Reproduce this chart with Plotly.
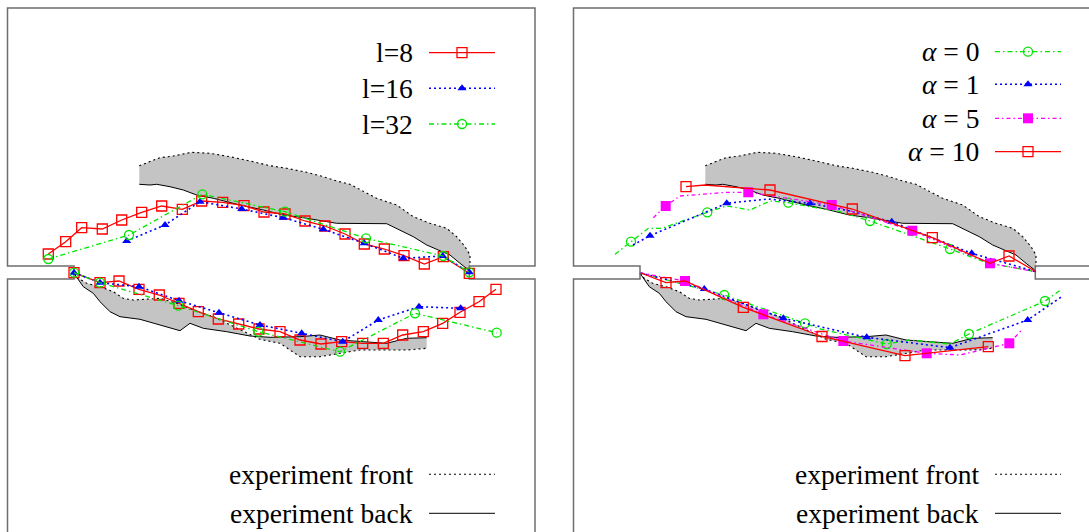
import plotly.graph_objects as go

# ---------------------------------------------------------------------------
# Specimen outline (double-edge-notched plate), x from left edge, y from notch axis
SPEC_X = [0, 0, 66.5, 66.5, 0, 0, 527.5, 527.5, 461.8, 461.8, 527.5, 527.5]
SPEC_Y = [-300, -6.6, -6.6, 6.6, 6.6, 264.5, 264.5, 6.6, 6.6, -6.6, -6.6, -300]

# Experimental crack surfaces: upper crack
UP_FRONT_X = [131.8, 152.5, 165.8, 184.2, 202.5, 222.5, 242.5, 262.5, 279.2, 299.2, 315.8,
              329.2, 342.5, 355.8, 369.2, 389.2, 405.8, 422.5, 439.2, 449.2, 457.5, 462.5, 462.5]
UP_FRONT_Y = [106.8, 114.8, 116.5, 120.2, 119.2, 115.8, 111.5, 106.8, 104.2, 100.2, 95.8,
              91.5, 88.2, 80.8, 74.2, 67.5, 55.8, 49.2, 44.2, 35.8, 25.8, 17.5, 5.8]
UP_BACK_X = [131.8, 142.5, 149.2, 162.5, 175.8, 189.2, 205.8, 232.5, 255.8, 275.8, 295.8,
             309.2, 329.2, 379.2, 389.2, 405.8, 419.2, 435.8, 442.5, 452.5, 461.8]
UP_BACK_Y = [88.2, 87.5, 88.2, 85.8, 82.5, 77.5, 74.2, 67.5, 62.5, 57.5, 54.8,
             52.5, 49.2, 48.8, 44.2, 35.8, 27.5, 20.8, 17.5, 9.2, 2.0]

# Experimental crack surfaces: lower crack
LO_FRONT_X = [66.5, 70.8, 79.2, 92.5, 105.8, 115.8, 125.8, 139.2, 152.5, 169.2, 185.8, 205.8,
              222.5, 239.2, 252.5, 272.5, 292.5, 312.5, 332.5, 352.5, 375.8, 399.2, 419.2]
LO_FRONT_Y = [-0.8, -5.8, -10.8, -14.2, -19.2, -25.8, -27.5, -26.8, -25.8, -30.8, -37.5, -44.2,
              -52.5, -60.8, -66.8, -70.8, -84.2, -84.2, -80.8, -77.5, -77.5, -77.5, -75.8]
LO_BACK_X = [66.5, 70.8, 75.8, 85.8, 92.5, 102.5, 112.5, 132.5, 152.5, 172.5, 182.5, 195.8,
             219.2, 242.5, 262.5, 292.5, 312.5, 332.5, 355.8, 379.2, 399.2, 419.2]
LO_BACK_Y = [-0.8, -7.5, -14.2, -20.8, -29.2, -39.2, -44.2, -46.8, -52.5, -58.2, -50.8, -55.8,
             -59.2, -63.5, -64.8, -64.2, -62.5, -67.5, -69.2, -70.8, -65.8, -65.2]

# ---------------------------------------------------------------------------
# Left panel: mesh size l
L8_UP_X = [40.8, 58.2, 74.2, 94.8, 114.2, 134.2, 154.2, 174.8, 194.2, 215.2, 236.5, 256.5,
           277.5, 297.5, 317.5, 337.5, 356.8, 376.8, 396.5, 416.8, 435.8, 461.8]
L8_UP_Y = [18.5, 30.8, 44.8, 43.5, 52.5, 60.2, 66.5, 63.2, 71.5, 70.2, 66.8, 60.5,
           58.5, 51.5, 46.5, 38.5, 28.5, 23.5, 16.8, 8.5, 15.8, -0.8]
L16_UP_X = [119.2, 157.5, 192.5, 234.2, 275.8, 315.8, 356.8, 395.8, 435.2, 461.8]
L16_UP_Y = [31.5, 47.5, 70.8, 63.5, 54.8, 43.2, 29.2, 14.2, 16.5, 0.2]
L32_UP_X = [40.8, 121.5, 194.8, 277.5, 358.5, 435.8, 461.8]
L32_UP_Y = [13.5, 37.5, 78.2, 60.8, 34.2, 16.5, 0.2]

L8_LO_X = [66.5, 92.5, 111.5, 131.5, 151.8, 171.5, 190.8, 210.8, 231.2, 251.5, 272.5,
           292.5, 313.5, 334.2, 355.2, 375.8, 395.2, 415.8, 435.2, 452.5, 471.5, 488.5]
L8_LO_Y = [-0.2, -10.2, -8.5, -16.8, -22.5, -30.8, -39.2, -46.5, -51.5, -56.5, -59.2,
           -67.5, -71.5, -69.2, -70.8, -70.8, -62.5, -59.2, -50.8, -39.8, -29.2, -16.8]
L16_LO_X = [66.5, 92.5, 131.5, 171.5, 211.5, 252.5, 294.2, 335.2, 370.8, 411.5, 453.2]
L16_LO_Y = [-0.2, -10.2, -14.2, -28.2, -40.2, -52.5, -60.8, -69.2, -47.5, -34.2, -35.8]
L32_LO_X = [66.5, 92.5, 170.8, 250.8, 332.5, 407.5, 489.2]
L32_LO_Y = [-0.2, -10.2, -33.2, -59.2, -79.2, -40.8, -60.2]

# ---------------------------------------------------------------------------
# Right panel: regularisation parameter alpha (1 = marked node, 0 = path vertex only)
A0_UP_X = [41.5, 57.5, 74.8, 88.2, 106.5, 133.8, 153.2, 176.5, 196.5, 214.8, 236.5, 266.5,
           296.5, 336.5, 376.5, 413.2, 462.5]
A0_UP_Y = [18.2, 30.8, 44.2, 44.2, 50.8, 60.2, 66.5, 62.5, 71.5, 69.8, 65.8, 60.8,
           51.5, 37.5, 23.5, 9.8, 0.8]
A0_UP_M = [0, 1, 0, 0, 0, 1, 0, 0, 0, 1, 0, 0, 1, 0, 1, 0, 0]
A1_UP_X = [59.5, 76.5, 153.2, 194.5, 236.5, 276.5, 318.2, 398.2, 462.5]
A1_UP_Y = [27.5, 36.8, 69.2, 73.5, 69.2, 61.5, 50.8, 19.2, 0.8]
A1_UP_M = [0, 1, 1, 0, 1, 0, 1, 1, 0]
A5_UP_X = [79.8, 92.2, 106.5, 129.5, 153.2, 174.8, 258.2, 338.8, 416.5, 462.5]
A5_UP_Y = [54.8, 66.5, 76.5, 78.5, 80.2, 80.2, 67.5, 41.8, 9.2, 0.8]
A5_UP_M = [0, 1, 0, 0, 0, 1, 1, 1, 1, 0]
A10_UP_X = [112.5, 131.5, 196.5, 278.8, 358.8, 416.5, 435.5, 462.5]
A10_UP_Y = [85.8, 87.5, 82.5, 63.5, 34.8, 9.2, 16.5, 0.8]
A10_UP_M = [1, 0, 1, 1, 1, 0, 1, 0]

A0_LO_X = [67.2, 150.8, 231.5, 246.5, 313.2, 336.5, 376.5, 395.5, 471.5, 487.2]
A0_LO_Y = [-0.5, -22.5, -50.8, -56.5, -71.5, -67.5, -71.5, -61.5, -28.5, -17.5]
A0_LO_M = [0, 1, 1, 0, 1, 0, 0, 1, 1, 0]
A1_LO_X = [67.2, 130.8, 209.8, 293.2, 376.5, 454.2, 488.2]
A1_LO_Y = [-0.5, -16.5, -45.8, -64.8, -75.2, -47.5, -24.2]
A1_LO_M = [0, 1, 1, 1, 1, 1, 0]
A5_LO_X = [67.2, 111.5, 189.8, 269.8, 353.2, 386.5, 435.8, 448.2]
A5_LO_Y = [-0.5, -8.5, -41.8, -68.5, -80.8, -82.5, -70.8, -57.5]
A5_LO_M = [0, 1, 1, 1, 1, 0, 1, 0]
A10_LO_X = [67.2, 92.5, 111.5, 169.8, 248.5, 331.5, 414.8]
A10_LO_Y = [-0.5, -10.2, -8.5, -34.8, -64.0, -83.2, -74.2]
A10_LO_M = [0, 1, 0, 1, 1, 1, 1]

# ---------------------------------------------------------------------------
FONT = "Liberation Serif"
RED, BLUE, GREEN, MAGENTA = "#ff0000", "#0000ff", "#00e600", "#ff00ff"
GRAY_FILL = "#c4c4c4"
FRAME = "#6e6e6e"

STYLE = {
    "l8":  dict(line=dict(color=RED, width=1.3),
                marker=dict(symbol="square-open", size=10, color=RED, line=dict(width=1.3))),
    "l16": dict(line=dict(color=BLUE, width=1.6, dash="2px,3px"),
                marker=dict(symbol="triangle-up", size=8, color=BLUE)),
    "l32": dict(line=dict(color=GREEN, width=1.3, dash="5px,3px,1.5px,3px"),
                marker=dict(symbol="circle-open", size=9, color=GREEN, line=dict(width=1.3))),
}
STYLE["a0"] = STYLE["l32"]
STYLE["a1"] = STYLE["l16"]
STYLE["a5"] = dict(line=dict(color=MAGENTA, width=1.3, dash="4px,3px,1.5px,3px"),
                   marker=dict(symbol="square", size=10, color=MAGENTA))
STYLE["a10"] = STYLE["l8"]
FRONT_LINE = dict(color="black", width=1.1, dash="2px,3px")
BACK_LINE = dict(color="black", width=1.0)

fig = go.Figure()


def axes(panel):
    return dict(xaxis="x" if panel == 0 else "x2", yaxis="y" if panel == 0 else "y2")


def add_series(panel, xs, ys, key, marks=None):
    st = STYLE[key]
    fig.add_trace(go.Scatter(x=xs, y=ys, mode="lines", line=st["line"],
                             hoverinfo="skip", showlegend=False, **axes(panel)))
    if marks is None:
        mx, my = xs, ys
    else:
        mx = [x for x, m in zip(xs, marks) if m]
        my = [y for y, m in zip(ys, marks) if m]
    fig.add_trace(go.Scatter(x=mx, y=my, mode="markers", marker=st["marker"],
                             hoverinfo="skip", showlegend=False, **axes(panel)))


for p in (0, 1):
    # crack bands between front and back surfaces
    for fx, fy, bx, by in ((UP_FRONT_X, UP_FRONT_Y, UP_BACK_X, UP_BACK_Y),
                           (LO_FRONT_X, LO_FRONT_Y, LO_BACK_X, LO_BACK_Y)):
        fig.add_trace(go.Scatter(x=bx + fx[::-1], y=by + fy[::-1], mode="none",
                                 fill="toself", fillcolor=GRAY_FILL,
                                 hoverinfo="skip", showlegend=False, **axes(p)))
        fig.add_trace(go.Scatter(x=fx, y=fy, mode="lines", line=FRONT_LINE,
                                 hoverinfo="skip", showlegend=False, **axes(p)))
        fig.add_trace(go.Scatter(x=bx, y=by, mode="lines", line=BACK_LINE,
                                 hoverinfo="skip", showlegend=False, **axes(p)))
    fig.add_trace(go.Scatter(x=SPEC_X, y=SPEC_Y, mode="lines",
                             line=dict(color=FRAME, width=1.5),
                             hoverinfo="skip", showlegend=False, **axes(p)))

# left panel series
add_series(0, L8_UP_X, L8_UP_Y, "l8")
add_series(0, L8_LO_X, L8_LO_Y, "l8")
add_series(0, L16_UP_X, L16_UP_Y, "l16")
add_series(0, L16_LO_X, L16_LO_Y, "l16")
add_series(0, L32_UP_X, L32_UP_Y, "l32")
add_series(0, L32_LO_X, L32_LO_Y, "l32")

# right panel series
add_series(1, A0_UP_X, A0_UP_Y, "a0", A0_UP_M)
add_series(1, A0_LO_X, A0_LO_Y, "a0", A0_LO_M)
add_series(1, A1_UP_X, A1_UP_Y, "a1", A1_UP_M)
add_series(1, A1_LO_X, A1_LO_Y, "a1", A1_LO_M)
add_series(1, A5_UP_X, A5_UP_Y, "a5", A5_UP_M)
add_series(1, A5_LO_X, A5_LO_Y, "a5", A5_LO_M)
add_series(1, A10_UP_X, A10_UP_Y, "a10", A10_UP_M)
add_series(1, A10_LO_X, A10_LO_Y, "a10", A10_LO_M)

# ---------------------------------------------------------------------------
# Legends: label on the left, key sample on the right
KEY_X0, KEY_XM, KEY_X1, LABEL_X = 421.5, 454.5, 487.5, 407.5
annotations = []


def legend_row(panel, y, label, key=None, line=None):
    annotations.append(dict(x=LABEL_X, y=y, xref="x" if panel == 0 else "x2",
                            yref="y" if panel == 0 else "y2", text=label,
                            showarrow=False, xanchor="right", yanchor="middle",
                            font=dict(family=FONT, size=27.5, color="black")))
    if key is not None:
        st = STYLE[key]
        fig.add_trace(go.Scatter(x=[KEY_X0, KEY_X1], y=[y, y], mode="lines", line=st["line"],
                                 hoverinfo="skip", showlegend=False, **axes(panel)))
        fig.add_trace(go.Scatter(x=[KEY_XM], y=[y], mode="markers", marker=st["marker"],
                                 hoverinfo="skip", showlegend=False, **axes(panel)))
    else:
        fig.add_trace(go.Scatter(x=[KEY_X0, KEY_X1], y=[y, y], mode="lines", line=line,
                                 hoverinfo="skip", showlegend=False, **axes(panel)))


legend_row(0, 219.8, "l=8", "l8")
legend_row(0, 184.2, "l=16", "l16")
legend_row(0, 148.5, "l=32", "l32")
legend_row(1, 220.8, "<i>α</i> = 0", "a0")
legend_row(1, 188.2, "<i>α</i> = 1", "a1")
legend_row(1, 154.2, "<i>α</i> = 5", "a5")
legend_row(1, 120.8, "<i>α</i> = 10", "a10")
for p in (0, 1):
    legend_row(p, -201.8, "experiment front", line=FRONT_LINE)
    legend_row(p, -240.8, "experiment back", line=BACK_LINE)

W, H = 1089, 532
hidden = dict(visible=False, showgrid=False, zeroline=False, fixedrange=True)
fig.update_layout(
    width=W, height=H, margin=dict(l=0, r=0, t=0, b=0),
    paper_bgcolor="white", plot_bgcolor="white",
    xaxis=dict(domain=[0, 545 / W], range=[-7.5, 537.5], **hidden),
    xaxis2=dict(domain=[564 / W, 1], range=[-9.5, 515.5], **hidden),
    yaxis=dict(domain=[0, 1], range=[-259.5, 272.5], anchor="x", **hidden),
    yaxis2=dict(domain=[0, 1], range=[-259.5, 272.5], anchor="x2", **hidden),
    annotations=annotations,
    showlegend=False,
)

fig.write_html("out.html")
